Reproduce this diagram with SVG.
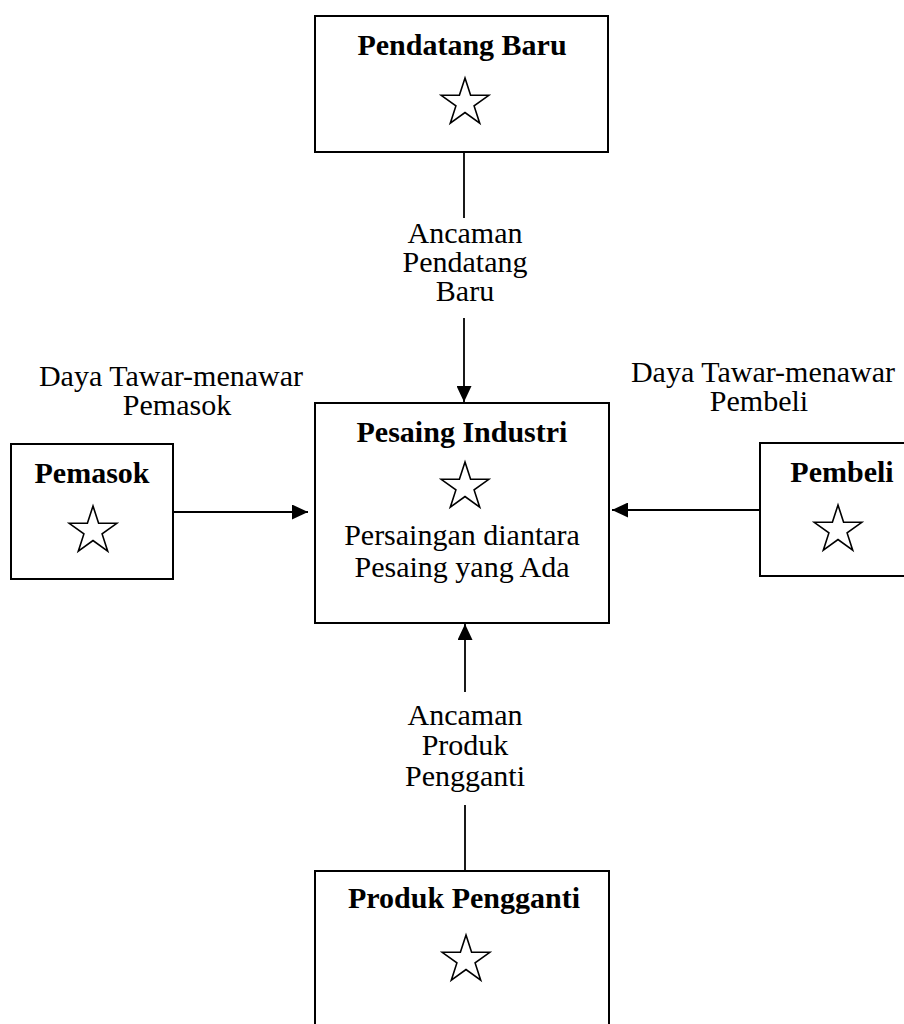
<svg xmlns="http://www.w3.org/2000/svg" width="904" height="1024" viewBox="0 0 904 1024">
  <style>
    .box { fill: #fff; stroke: #000; stroke-width: 2; }
    .title { font-family: "Liberation Serif", "Times New Roman", serif; font-weight: bold; font-size: 30px; fill: #000; text-anchor: middle; }
    .label { font-family: "Liberation Serif", "Times New Roman", serif; font-size: 30px; fill: #000; text-anchor: middle; }
    .star { fill: none; stroke: #000; stroke-width: 1.6; stroke-linejoin: miter; }
    .link { stroke: #000; stroke-width: 1.8; fill: none; }
  </style>
  <defs>
    <!-- five-pointed outline star, outer radius 25 -->
    <polygon id="star" class="star" points="0,-25 5.6,-7.7 23.8,-7.7 9.1,2.9 14.7,20.2 0,9.5 -14.7,20.2 -9.1,2.9 -23.8,-7.7 -5.6,-7.7"/>
    <marker id="arrow" markerUnits="userSpaceOnUse" markerWidth="17" markerHeight="15" refX="16" refY="7.5" orient="auto">
      <path d="M0,0 L16,7.5 L0,15 z" fill="#000"/>
    </marker>
  </defs>

  <rect width="904" height="1024" fill="#fff"/>

  <!-- connectors -->
  <g id="connectors">
    <line class="link" x1="464" y1="152" x2="464" y2="218"/>
    <line class="link" x1="464" y1="318" x2="464" y2="402" marker-end="url(#arrow)"/>
    <line class="link" x1="173" y1="512" x2="308" y2="512" marker-end="url(#arrow)"/>
    <line class="link" x1="760" y1="510" x2="612" y2="510" marker-end="url(#arrow)"/>
    <line class="link" x1="465" y1="871" x2="465" y2="805"/>
    <line class="link" x1="465" y1="692" x2="465" y2="624" marker-end="url(#arrow)"/>

    <text class="label" x="465" y="243">Ancaman</text>
    <text class="label" x="465" y="272">Pendatang</text>
    <text class="label" x="465" y="301">Baru</text>

    <text class="label" x="465" y="725">Ancaman</text>
    <text class="label" x="465" y="755">Produk</text>
    <text class="label" x="465" y="786">Pengganti</text>

    <text class="label" x="171" y="386">Daya Tawar-menawar</text>
    <text class="label" x="177" y="415">Pemasok</text>

    <text class="label" x="763" y="382">Daya Tawar-menawar</text>
    <text class="label" x="759" y="411">Pembeli</text>
  </g>

  <g id="pendatang-baru">
    <rect class="box" x="315" y="16" width="293" height="136"/>
    <text class="title" x="462" y="55">Pendatang Baru</text>
    <use href="#star" x="465" y="103"/>
  </g>

  <g id="pesaing-industri">
    <rect class="box" x="315" y="403" width="294" height="220"/>
    <text class="title" x="462" y="442">Pesaing Industri</text>
    <use href="#star" x="465" y="487"/>
    <text class="label" x="462" y="545">Persaingan diantara</text>
    <text class="label" x="462" y="577">Pesaing yang Ada</text>
  </g>

  <g id="pemasok">
    <rect class="box" x="11" y="444" width="162" height="135"/>
    <text class="title" x="92" y="483">Pemasok</text>
    <use href="#star" x="93" y="531"/>
  </g>

  <g id="pembeli">
    <rect class="box" x="760" y="443" width="170" height="133"/>
    <text class="title" x="842" y="482">Pembeli</text>
    <use href="#star" x="838" y="530"/>
  </g>

  <g id="produk-pengganti">
    <rect class="box" x="315" y="871" width="294" height="170"/>
    <text class="title" x="464" y="908">Produk Pengganti</text>
    <use href="#star" x="466" y="960"/>
  </g>
</svg>
